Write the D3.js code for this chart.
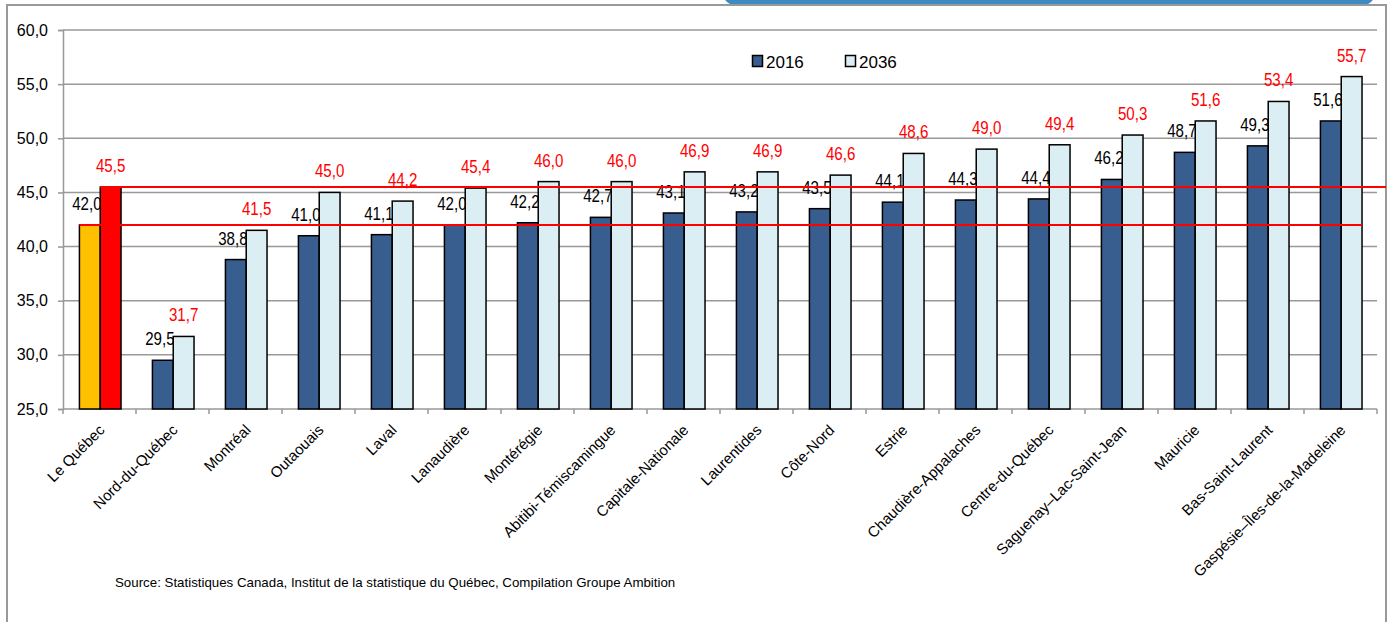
<!DOCTYPE html>
<html>
<head>
<meta charset="utf-8">
<script src="https://cdn.jsdelivr.net/npm/d3@7"></script>
<style>
  body { margin: 0; background: #fff; }
  svg { display: block; }
</style>
</head>
<body>
<svg id="chart" width="1390" height="622"></svg>
<script>
// Régions et âge médian (2016 vs 2036)
const regions = ["Le Québec", "Nord-du-Québec", "Montréal", "Outaouais", "Laval", "Lanaudière",
  "Montérégie", "Abitibi-Témiscamingue", "Capitale-Nationale", "Laurentides", "Côte-Nord", "Estrie",
  "Chaudière-Appalaches", "Centre-du-Québec", "Saguenay–Lac-Saint-Jean", "Mauricie",
  "Bas-Saint-Laurent", "Gaspésie–Îles-de-la-Madeleine"];
const values2016 = [42.0, 29.5, 38.8, 41.0, 41.1, 42.0, 42.2, 42.7, 43.1, 43.2, 43.5, 44.1, 44.3, 44.4, 46.2, 48.7, 49.3, 51.6];
const values2036 = [45.5, 31.7, 41.5, 45.0, 44.2, 45.4, 46.0, 46.0, 46.9, 46.9, 46.6, 48.6, 49.0, 49.4, 50.3, 51.6, 53.4, 55.7];
const seriesNames = ["2016", "2036"];
const yTicks = [25, 30, 35, 40, 45, 50, 55, 60];
const sourceText = "Source: Statistiques Canada, Institut de la statistique du Québec, Compilation Groupe Ambition";

const svg = d3.select("#chart");
const plot = { left: 63, right: 1377, top: 30, bottom: 409 };

const colors = { "2016": "#375e8f", "2036": "#dbeef4" };
const quebecColors = { "2016": "#ffc000", "2036": "#ff0000" };
const fmt = v => d3.format(".1f")(v).replace(".", ",");
const sans = "Liberation Sans, Arial, sans-serif";

// Cadre + bandeau bleu en haut
svg.append("rect")
  .attr("x", 723).attr("y", -20).attr("width", 652).attr("height", 25)
  .attr("rx", 12).attr("fill", "#3d8bc0");
svg.append("rect")
  .attr("x", 7).attr("y", 5).attr("width", 1379).attr("height", 650)
  .attr("fill", "none").attr("stroke", "#999").attr("stroke-width", 2);

// Échelles
const x0 = d3.scaleBand().domain(regions).range([plot.left, plot.right]);
const bw = x0.bandwidth();
const x1 = d3.scaleBand().domain(seriesNames).range([bw * 0.225, bw * 0.795]);
const y = d3.scaleLinear().domain([25, 60]).range([plot.bottom, plot.top]);

// Grille
svg.append("g").selectAll("line")
  .data(yTicks.slice(1))
  .enter().append("line")
  .attr("x1", plot.left).attr("x2", plot.right)
  .attr("y1", d => y(d)).attr("y2", d => y(d))
  .attr("stroke", "#999").attr("stroke-width", 1.5);

// Axe Y
const yAxis = d3.axisLeft(y).tickValues(yTicks).tickFormat(fmt).tickSize(5).tickPadding(10);
const gy = svg.append("g").attr("transform", `translate(${plot.left},0)`).call(yAxis);
gy.select(".domain").attr("stroke", "#999").attr("stroke-width", 1.5);
gy.selectAll(".tick line").attr("stroke", "#999").attr("stroke-width", 1.5);
gy.selectAll("text").attr("font-family", sans).attr("font-size", 16).attr("fill", "#000");

// Axe X (ligne + graduations aux frontières des catégories)
const gx = svg.append("g");
gx.append("line")
  .attr("x1", plot.left).attr("x2", plot.right)
  .attr("y1", plot.bottom).attr("y2", plot.bottom)
  .attr("stroke", "#999").attr("stroke-width", 1.5);
gx.selectAll(".xtick")
  .data(regions.concat([null]))
  .enter().append("line")
  .attr("class", "xtick")
  .attr("x1", (d, i) => plot.left + i * bw).attr("x2", (d, i) => plot.left + i * bw)
  .attr("y1", plot.bottom).attr("y2", plot.bottom + 5)
  .attr("stroke", "#999").attr("stroke-width", 1.5);

// Étiquettes des régions (rotation -45)
gx.selectAll(".xlabel")
  .data(regions)
  .enter().append("text")
  .attr("class", "xlabel")
  .attr("transform", d => `translate(${x0(d) + bw / 2 + 6},${plot.bottom + 22}) rotate(-45)`)
  .attr("text-anchor", "end")
  .attr("font-family", sans)
  .attr("font-size", 15)
  .attr("fill", "#000")
  .text(d => d);

const rows = regions.map((r, i) => ({ region: r, i, v2016: values2016[i], v2036: values2036[i] }));

// étiquette de valeur un peu condensée, comme dans l'original
function valueLabels(g, key, series, color, dx) {
  g.selectAll("text")
    .data(rows)
    .enter().append("text")
    .attr("transform", d => `translate(${x0(d.region) + x1(series) + x1.bandwidth() / 2 + dx},${y(d[key]) - 15}) scale(0.84,1)`)
    .attr("text-anchor", "middle")
    .attr("font-family", sans).attr("font-size", 18).attr("fill", color)
    .text(d => fmt(d[key]));
}

// Étiquettes 2016 (noires, derrière les barres 2036)
valueLabels(svg.append("g"), "v2016", "2016", "#000", -3);

// Barres
const bars = svg.append("g");
seriesNames.forEach(s => {
  bars.selectAll(".bar" + s)
    .data(rows)
    .enter().append("rect")
    .attr("class", "bar" + s)
    .attr("x", d => x0(d.region) + x1(s))
    .attr("y", d => y(s === "2016" ? d.v2016 : d.v2036))
    .attr("width", x1.bandwidth())
    .attr("height", d => plot.bottom - y(s === "2016" ? d.v2016 : d.v2036))
    .attr("fill", d => d.i === 0 ? quebecColors[s] : colors[s])
    .attr("stroke", "#000").attr("stroke-width", 1.5);
});

// Étiquettes 2036 (rouges)
valueLabels(svg.append("g"), "v2036", "2036", "#ff0000", 0);

// Lignes de référence rouges (Le Québec 2016 et 2036)
const last = regions[regions.length - 1];
svg.append("line")
  .attr("x1", x0(regions[0]) + x1("2036")).attr("x2", 1386)
  .attr("y1", y(values2036[0])).attr("y2", y(values2036[0]))
  .attr("stroke", "#ff0000").attr("stroke-width", 2);
svg.append("line")
  .attr("x1", x0(regions[0]) + x1("2016")).attr("x2", x0(last) + x1("2036") + x1.bandwidth())
  .attr("y1", y(values2016[0])).attr("y2", y(values2016[0]))
  .attr("stroke", "#ff0000").attr("stroke-width", 2);

// Légende
const legend = svg.append("g").attr("transform", "translate(752,55)");
seriesNames.forEach((s, i) => {
  const g = legend.append("g").attr("transform", `translate(${i * 93},0)`);
  g.append("rect").attr("x", 0.5).attr("y", 0.5).attr("width", 10).attr("height", 11)
    .attr("fill", colors[s]).attr("stroke", "#000").attr("stroke-width", 1.5);
  g.append("text").attr("x", 14).attr("y", 12.5)
    .attr("font-family", sans).attr("font-size", 17)
    .attr("fill", "#000").text(s);
});

// Source
svg.append("text")
  .attr("x", 115).attr("y", 587)
  .attr("font-family", sans).attr("font-size", 13.3)
  .attr("fill", "#000")
  .text(sourceText);
</script>
</body>
</html>
